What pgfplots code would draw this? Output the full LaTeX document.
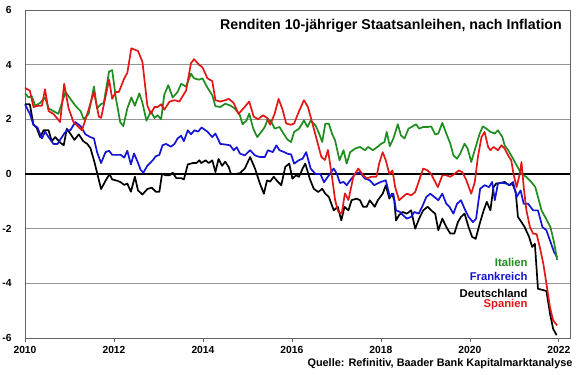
\documentclass[border=0pt]{standalone}
\usepackage{pgfplots}
\pgfplotsset{compat=1.18}
\usepackage{fontspec}
\setmainfont{Liberation Sans}
\definecolor{cIT}{RGB}{30,140,30}
\definecolor{cFR}{RGB}{20,20,215}
\definecolor{cES}{RGB}{228,22,22}
\definecolor{cAx}{RGB}{100,100,100}
\definecolor{cGr}{RGB}{150,150,150}
\begin{document}
\begin{tikzpicture}
\path[use as bounding box] (-25bp,-37bp) rectangle (555bp,338bp);
\begin{axis}[
  scale only axis, width=545bp, height=328bp,
  xmin=2010, xmax=2022.25, ymin=-6, ymax=6,
  xtick={2010,2012,2014,2016,2018,2020,2022},
  xticklabels={2010,2012,2014,2016,2018,2020,2022},
  ytick={-6,-4,-2,0,2,4,6},
  yticklabels={-6,-4,-2,0,2,4,6},
  ymajorgrids, grid style={cGr, line width=0.8bp},
  axis line style={cAx, line width=0.9bp},
  xtick pos=bottom, ytick pos=left, tick align=outside,
  major tick length=4bp,
  xtick style={cAx, line width=0.8bp},
  ytick style={draw=none},
  tick label style={font=\fontsize{10.3bp}{12bp}\selectfont\bfseries},
  xticklabel style={yshift=-3bp, inner sep=1.5bp},
  yticklabel style={xshift=-6bp},
  clip=false,
  every axis plot/.append style={line width=1.7bp, line join=round},
]
\addplot[black, line width=1.6bp] coordinates {(2010,0)(2022.25,0)};
% Deutschland
\addplot[black] coordinates {
(2010.00,2.55)(2010.11,2.55)(2010.19,1.8)(2010.26,1.7)(2010.34,1.35)(2010.42,1.6)(2010.53,1.6)(2010.60,1.2)(2010.68,1.35)(2010.79,1.15)(2010.87,1.05)(2010.94,1.65)(2011.03,1.45)(2011.11,1.25)(2011.21,1.45)(2011.31,1.2)(2011.40,1.1)(2011.47,0.95)(2011.55,0.5)(2011.62,0.05)(2011.71,-0.55)(2011.81,-0.25)(2011.90,0.0)(2011.96,-0.2)(2012.08,-0.25)(2012.15,-0.3)(2012.23,-0.4)(2012.30,-0.35)(2012.38,-0.65)(2012.47,-0.1)(2012.54,-0.6)(2012.64,-0.75)(2012.75,-0.55)(2012.85,-0.5)(2012.94,-0.65)(2013.02,-0.65)(2013.08,0.0)(2013.17,-0.05)(2013.25,-0.05)(2013.32,0.05)(2013.40,-0.15)(2013.51,-0.15)(2013.57,-0.2)(2013.66,0.35)(2013.77,0.4)(2013.85,0.4)(2013.92,0.5)(2013.96,0.4)
(2014.06,0.5)(2014.13,0.4)(2014.21,0.5)(2014.28,0.07)(2014.35,0.55)(2014.43,0.3)(2014.50,0.45)(2014.58,0.25)(2014.63,0.0)(2014.72,0.0)(2014.83,0.03)(2014.94,0.2)(2015.06,0.62)(2015.17,0.2)(2015.28,-0.35)(2015.37,-0.72)(2015.44,-0.23)(2015.51,-0.28)(2015.59,-0.1)(2015.68,-0.28)(2015.76,-0.41)(2015.85,0.26)(2015.94,0.38)(2016.01,-0.17)(2016.09,-0.05)(2016.16,-0.1)(2016.24,0.2)(2016.30,0.38)(2016.40,-0.17)(2016.49,-0.54)(2016.59,-0.66)(2016.68,-0.54)(2016.75,-0.72)(2016.83,-0.84)(2016.94,-1.33)(2017.03,-1.2)(2017.11,-1.7)(2017.18,-1.2)(2017.27,-1.33)(2017.34,-0.96)(2017.45,-0.9)(2017.53,-0.96)(2017.60,-1.2)(2017.68,-1.2)(2017.75,-0.96)(2017.86,-1.2)(2017.93,-0.96)
(2018.04,-0.72)(2018.11,-0.41)(2018.19,-0.9)(2018.25,-0.72)(2018.30,-0.96)(2018.34,-1.7)(2018.41,-1.5)(2018.49,-1.39)(2018.58,-1.45)(2018.68,-1.33)(2018.77,-2.0)(2018.86,-1.63)(2018.95,-1.33)(2019.05,-1.2)(2019.13,-1.33)(2019.22,-1.45)(2019.29,-2.06)(2019.38,-1.63)(2019.47,-1.94)(2019.56,-2.18)(2019.65,-2.18)(2019.73,-1.76)(2019.80,-1.57)(2019.88,-1.45)(2019.97,-1.94)(2020.05,-2.3)(2020.13,-2.37)(2020.22,-1.82)(2020.31,-1.33)(2020.38,-1.02)(2020.46,-1.33)(2020.53,-0.48)(2020.59,-0.35)(2020.68,-0.33)(2020.78,-0.29)(2020.88,-0.41)(2020.95,-0.33)(2021.03,-0.66)(2021.08,-1.57)(2021.16,-1.76)(2021.23,-1.94)(2021.33,-2.3)(2021.40,-2.67)(2021.46,-2.55)(2021.53,-4.2)(2021.63,-4.24)(2021.72,-4.28)(2021.80,-5.1)(2021.87,-5.66)(2021.95,-5.9)
};
% Frankreich
\addplot[cFR] coordinates {
(2010.00,2.55)(2010.11,2.2)(2010.19,1.8)(2010.28,1.7)(2010.38,1.3)(2010.45,1.55)(2010.53,1.35)(2010.64,1.1)(2010.73,1.1)(2010.87,1.45)(2010.94,1.6)(2011.02,1.6)(2011.13,1.9)(2011.25,1.75)(2011.36,1.45)(2011.47,1.35)(2011.55,1.3)(2011.62,0.8)(2011.71,0.4)(2011.81,0.8)(2011.89,0.85)(2011.96,0.7)(2012.08,0.7)(2012.15,0.7)(2012.23,0.6)(2012.30,0.85)(2012.38,0.35)(2012.45,0.75)(2012.53,0.45)(2012.60,0.15)(2012.66,0.05)(2012.75,0.3)(2012.87,0.5)(2012.94,0.65)(2013.02,0.7)(2013.09,1.05)(2013.17,1.1)(2013.28,1.0)(2013.36,1.1)(2013.43,1.3)(2013.51,1.4)(2013.57,1.2)(2013.66,1.6)(2013.73,1.45)(2013.81,1.6)(2013.89,1.55)(2013.97,1.7)
(2014.10,1.55)(2014.21,1.35)(2014.28,1.48)(2014.39,1.1)(2014.50,1.08)(2014.61,1.05)(2014.69,0.87)(2014.76,0.98)(2014.83,0.75)(2014.94,0.68)(2015.06,0.87)(2015.17,0.68)(2015.28,0.62)(2015.39,0.62)(2015.46,0.87)(2015.57,0.8)(2015.65,1.05)(2015.72,0.87)(2015.83,0.8)(2015.90,0.74)(2015.98,0.72)(2016.05,0.38)(2016.15,0.5)(2016.24,0.56)(2016.32,0.8)(2016.42,0.2)(2016.53,0.0)(2016.64,0.0)(2016.72,-0.3)(2016.83,-0.05)(2016.94,0.2)(2017.01,0.0)(2017.08,-0.33)(2017.16,-0.29)(2017.23,-0.41)(2017.31,-0.23)(2017.42,0.0)(2017.53,0.07)(2017.64,-0.17)(2017.75,-0.23)
(2017.85,-0.41)(2017.92,-0.35)(2018.00,-0.29)(2018.11,-0.23)(2018.20,-0.84)(2018.28,-0.72)(2018.34,-1.33)(2018.43,-1.39)(2018.49,-1.5)(2018.58,-1.63)(2018.68,-1.57)(2018.75,-1.39)(2018.85,-1.45)(2018.94,-1.15)(2019.02,-0.84)(2019.11,-0.72)(2019.20,-0.84)(2019.29,-0.96)(2019.38,-0.72)(2019.47,-1.09)(2019.54,-1.2)(2019.63,-1.45)(2019.71,-1.09)(2019.80,-0.96)(2019.88,-1.27)(2019.97,-1.57)(2020.07,-1.76)(2020.14,-1.63)(2020.23,-0.54)(2020.33,-0.41)(2020.43,-0.48)(2020.50,-0.29)(2020.56,-0.96)(2020.63,-0.35)(2020.71,-0.32)(2020.82,-0.35)(2020.91,-0.41)(2020.97,-0.29)(2021.05,-0.84)(2021.14,-0.6)(2021.21,-1.09)(2021.31,-1.09)(2021.42,-1.33)(2021.53,-1.33)(2021.63,-1.94)(2021.72,-2.06)(2021.80,-2.43)(2021.89,-2.85)(2021.96,-3.04)
};
% Italien
\addplot[cIT] coordinates {
(2010.00,2.95)(2010.08,2.8)(2010.15,2.85)(2010.23,2.5)(2010.34,2.6)(2010.45,2.8)(2010.53,2.4)(2010.64,2.3)(2010.75,2.2)(2010.91,3.0)(2011.02,2.75)(2011.13,2.5)(2011.25,2.3)(2011.32,2.0)(2011.43,2.2)(2011.55,3.2)(2011.62,2.4)(2011.70,2.55)(2011.77,2.6)(2011.89,3.75)(2011.96,3.8)(2012.04,2.8)(2012.14,1.9)(2012.21,1.75)(2012.30,2.4)(2012.39,2.8)(2012.47,2.5)(2012.57,2.95)(2012.64,2.6)(2012.73,1.95)(2012.83,2.3)(2012.91,2.05)(2012.98,2.15)(2013.06,2.0)(2013.13,2.9)(2013.22,3.25)(2013.32,2.8)(2013.43,3.0)(2013.51,3.3)
(2013.62,3.2)(2013.73,3.67)(2013.80,3.5)(2013.91,3.45)(2013.99,3.5)(2014.10,3.16)(2014.21,2.88)(2014.28,2.48)(2014.39,2.45)(2014.50,2.57)(2014.61,2.51)(2014.72,2.39)(2014.83,2.15)(2014.89,1.82)(2014.98,1.96)(2015.04,2.21)(2015.13,1.66)(2015.22,1.35)(2015.31,1.54)(2015.39,1.72)(2015.46,2.02)(2015.54,1.90)(2015.61,1.66)(2015.72,1.72)(2015.81,1.48)(2015.90,1.26)(2015.98,1.17)(2016.05,1.54)(2016.16,1.66)(2016.27,1.96)(2016.35,1.72)(2016.42,1.96)(2016.53,1.78)(2016.61,1.48)(2016.68,1.17)(2016.75,1.84)(2016.83,1.84)(2016.90,1.48)(2016.97,1.23)(2017.07,0.5)(2017.16,0.87)(2017.23,0.38)(2017.31,0.80)(2017.42,0.93)(2017.53,0.99)(2017.64,0.87)(2017.71,0.99)(2017.82,0.87)(2017.93,1.0)
(2018.00,1.1)(2018.08,1.17)(2018.13,1.54)(2018.20,1.02)(2018.28,1.3)(2018.38,1.82)(2018.45,1.41)(2018.53,1.3)(2018.62,1.66)(2018.71,1.74)(2018.79,1.82)(2018.86,1.66)(2018.95,1.72)(2019.05,1.72)(2019.13,1.74)(2019.22,1.45)(2019.29,1.48)(2019.38,1.87)(2019.47,1.48)(2019.56,1.11)(2019.63,0.68)(2019.71,0.56)(2019.78,0.74)(2019.88,1.11)(2019.95,0.93)(2020.03,0.44)(2020.13,0.99)(2020.22,1.48)(2020.29,1.74)(2020.37,1.66)(2020.46,1.54)(2020.56,1.48)(2020.63,1.6)(2020.73,1.35)(2020.78,1.05)(2020.86,0.87)(2020.95,0.62)(2021.05,0.32)(2021.16,0.0)(2021.27,-0.11)(2021.38,-0.29)(2021.47,-0.48)(2021.53,-0.84)(2021.61,-1.33)(2021.71,-1.63)(2021.81,-1.94)(2021.89,-2.49)(2021.96,-3.14)
};
% Spanien
\addplot[cES] coordinates {
(2010.00,3.15)(2010.11,3.05)(2010.19,2.45)(2010.30,2.5)(2010.38,2.5)(2010.45,3.1)(2010.53,2.3)(2010.64,2.2)(2010.79,1.9)(2010.88,3.3)(2010.98,2.4)(2011.09,1.9)(2011.28,1.6)(2011.40,2.2)(2011.55,3.0)(2011.66,2.1)(2011.71,2.05)(2011.89,3.45)(2011.96,2.75)(2012.04,3.0)(2012.11,3.0)(2012.23,3.5)(2012.30,3.7)(2012.39,4.6)(2012.54,4.5)(2012.64,4.1)(2012.75,2.5)(2012.83,2.2)(2012.91,2.45)(2012.98,2.45)(2013.06,2.55)(2013.13,2.35)(2013.25,2.65)(2013.36,2.7)(2013.47,2.65)
(2013.62,3.05)(2013.73,4.05)(2013.80,4.2)(2013.91,4.0)(2013.99,3.9)(2014.10,3.5)(2014.21,3.4)(2014.28,2.7)(2014.39,2.65)(2014.50,2.7)(2014.58,2.75)(2014.69,2.6)(2014.80,2.2)(2014.91,2.4)(2015.04,2.65)(2015.14,2.1)(2015.24,2.0)(2015.35,2.15)(2015.44,2.05)(2015.51,1.8)(2015.61,2.2)(2015.70,2.75)(2015.79,2.35)(2015.87,1.85)(2015.98,1.8)(2016.05,1.85)(2016.16,2.3)(2016.27,2.7)(2016.36,2.45)(2016.48,1.73)(2016.59,1.06)(2016.66,0.63)(2016.74,0.51)(2016.81,0.88)(2016.89,0.02)(2016.97,-0.95)(2017.04,-1.38)(2017.12,-1.44)(2017.19,-0.71)(2017.27,-0.95)(2017.38,-0.1)(2017.49,0.2)(2017.60,-0.04)(2017.68,-0.16)(2017.79,-0.1)(2017.90,-0.1)
(2017.96,0.38)(2018.04,0.8)(2018.11,0.5)(2018.19,0.0)(2018.26,0.13)(2018.32,-0.48)(2018.41,-0.96)(2018.49,-0.84)(2018.58,-0.72)(2018.68,-0.78)(2018.77,-0.66)(2018.86,-0.23)(2018.95,0.2)(2019.05,0.13)(2019.13,0.0)(2019.20,-0.23)(2019.28,-0.48)(2019.38,-0.05)(2019.47,-0.05)(2019.56,-0.1)(2019.65,0.0)(2019.75,0.13)(2019.83,0.07)(2019.92,-0.23)(2020.03,-0.72)(2020.11,-0.29)(2020.18,0.62)(2020.26,1.35)(2020.33,1.54)(2020.41,0.99)(2020.46,0.87)(2020.53,0.99)(2020.63,0.87)(2020.71,1.05)(2020.78,0.93)(2020.86,0.68)(2020.93,0.5)(2020.98,0.0)(2021.05,-0.48)(2021.12,0.0)(2021.16,0.44)(2021.21,-0.48)(2021.27,-1.33)(2021.35,-1.94)(2021.42,-2.18)(2021.50,-2.2)(2021.57,-2.67)(2021.65,-3.28)(2021.72,-4.01)(2021.80,-4.87)(2021.87,-5.35)(2021.96,-5.54)
};
\node[anchor=base east, inner sep=0pt, font=\fontsize{14.2bp}{17bp}\selectfont\bfseries] at (axis cs:2022.07,5.30) {Renditen 10-jähriger Staatsanleihen, nach Inflation};
\node[anchor=base east, inner sep=0pt, text=cIT, font=\fontsize{11.3bp}{13bp}\selectfont\bfseries] at (axis cs:2021.30,-3.38) {Italien};
\node[anchor=base east, inner sep=0pt, text=cFR, font=\fontsize{11.3bp}{13bp}\selectfont\bfseries] at (axis cs:2021.30,-3.89) {Frankreich};
\node[anchor=base east, inner sep=0pt, text=black, font=\fontsize{11.3bp}{13bp}\selectfont\bfseries] at (axis cs:2021.30,-4.50) {Deutschland};
\node[anchor=base east, inner sep=0pt, text=cES, font=\fontsize{11.3bp}{13bp}\selectfont\bfseries] at (axis cs:2021.30,-4.90) {Spanien};
\node[anchor=base east, inner sep=0pt, font=\fontsize{10.9bp}{13bp}\selectfont\bfseries] at (axis cs:2022.31,-7.06) {Quelle: Refinitiv, Baader Bank Kapitalmarktanalyse};
\end{axis}
\end{tikzpicture}
\end{document}
